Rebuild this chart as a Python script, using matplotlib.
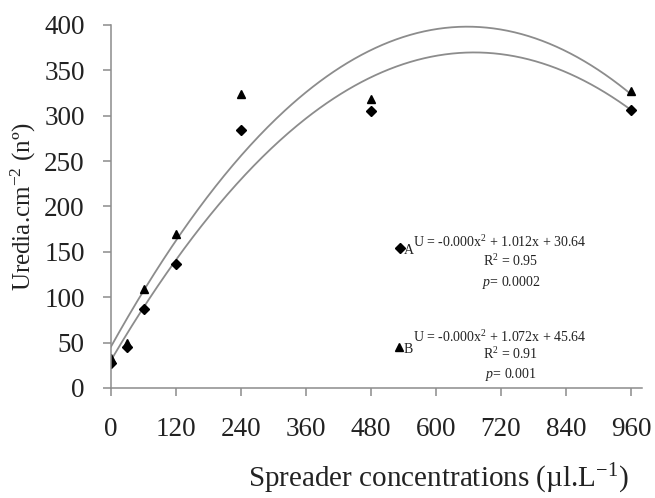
import matplotlib
matplotlib.use("Agg")
import matplotlib.pyplot as plt
import numpy as np

plt.rcParams["font.family"] = ["Liberation Serif", "DejaVu Serif"]
plt.rcParams["mathtext.fontset"] = "custom"
plt.rcParams["mathtext.rm"] = "Liberation Serif"
plt.rcParams["mathtext.it"] = "Liberation Serif:italic"

# Spreader concentrations (µl/L)
conc = [0, 30, 60, 120, 240, 480, 960]
# A (diamonds) and B (triangles) uredia per cm2
uredia_a = [28, 45, 87, 137, 284, 305, 306]
uredia_b = [33, 50, 109, 170, 324, 319, 327]

# quadratic fits U = c2*x^2 + c1*x + c0 (c2 printed as -0.000 in the original)
coef_a = [-0.000755, 1.012, 30.64]
coef_b = [-0.000815, 1.072, 45.64]

x_ticks = [0, 120, 240, 360, 480, 600, 720, 840, 960]
y_ticks = [0, 50, 100, 150, 200, 250, 300, 350, 400]

GRAY = "#8c8c8c"
TXT = "#222222"

fig = plt.figure(figsize=(6.55, 4.98), dpi=100)
ax = fig.add_axes([0.1695, 0.2209, 0.8105, 0.7289])

xs = np.linspace(0, 960, 300)
ax.plot(xs, np.polyval(coef_b, xs), color=GRAY, lw=1.3)
ax.plot(xs, np.polyval(coef_a, xs), color=GRAY, lw=1.3)

ax.plot(conc, uredia_b, "^", color="black", ms=6, ls="none")
ax.plot(conc, uredia_a, "D", color="black", ms=4.8, ls="none")

ax.set_xlim(0, 980)
ax.set_ylim(0, 400)
ax.set_xticks(x_ticks)
ax.set_yticks(y_ticks)

for side in ("top", "right"):
    ax.spines[side].set_visible(False)
for side in ("left", "bottom"):
    ax.spines[side].set_color(GRAY)
    ax.spines[side].set_linewidth(1.1)

ax.tick_params(axis="both", direction="out", color=GRAY, length=6, width=1.1,
               labelsize=19.5, labelcolor=TXT)
ax.tick_params(axis="x", pad=15)
ax.tick_params(axis="y", pad=13)

ax.set_ylabel(r"Uredia.cm$^{-2}$ (nº)", fontsize=18, color=TXT, labelpad=4)
fig.text(0.669, 0.004, r"Spreader concentrations (µl.L$^{-1}$)",
         fontsize=21, color=TXT, ha="center", va="bottom")

# regression annotations
ax.plot([534], [154], "D", color="black", ms=4.8)
ax.text(540, 148, "A", fontsize=10, color=TXT, ha="left", va="baseline")
ax.text(558, 155, r"U = -0.000x$^{2}$ + 1.012x + 30.64", fontsize=10,
        color=TXT, ha="left", va="baseline")
ax.text(738, 134, r"R$^{2}$ = 0.95", fontsize=10, color=TXT, ha="center", va="baseline")
ax.text(738, 112, r"$\it{p}$= 0.0002", fontsize=10, color=TXT, ha="center", va="baseline")

ax.plot([531], [45], "^", color="black", ms=6)
ax.text(540, 39, "B", fontsize=10, color=TXT, ha="left", va="baseline")
ax.text(558, 51, r"U = -0.000x$^{2}$ + 1.072x + 45.64", fontsize=10,
        color=TXT, ha="left", va="baseline")
ax.text(738, 32, r"R$^{2}$ = 0.91", fontsize=10, color=TXT, ha="center", va="baseline")
ax.text(738, 11, r"$\it{p}$= 0.001", fontsize=10, color=TXT, ha="center", va="baseline")

fig.savefig("out.png", dpi=100)
